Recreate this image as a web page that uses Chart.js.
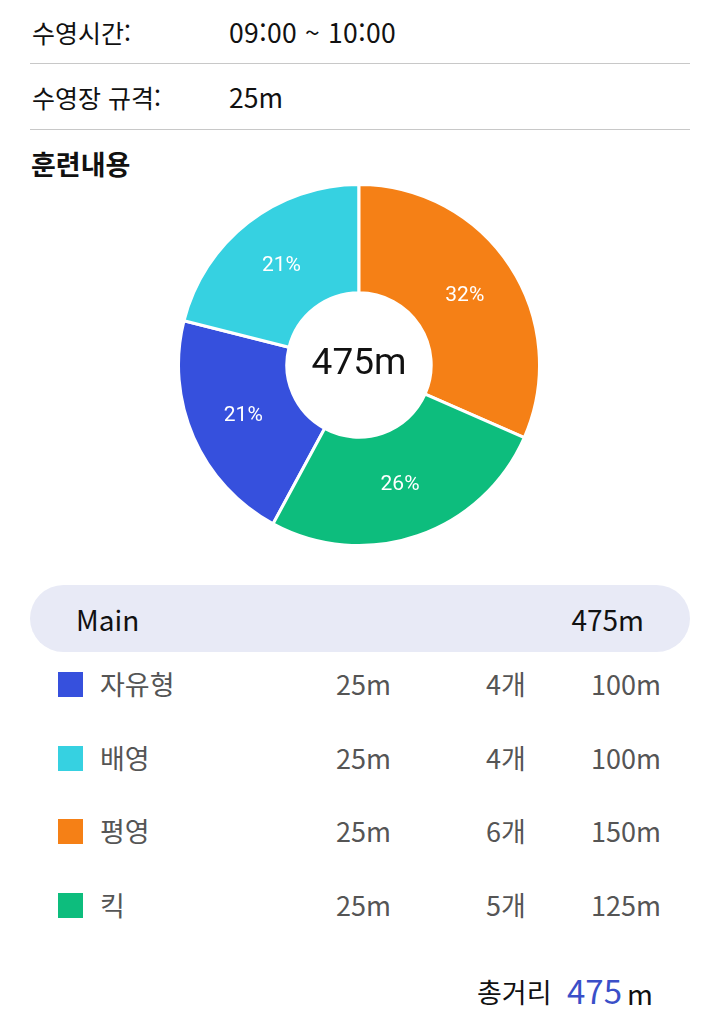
<!DOCTYPE html>
<html lang="ko">
<head>
<meta charset="utf-8">
<script src="https://cdn.jsdelivr.net/npm/chart.js@4"></script>
<style>
  html, body { margin: 0; padding: 0; background: #fff; }
  body { width: 720px; height: 1016px; position: relative; overflow: hidden;
         font-family: "Noto Sans CJK KR", "Noto Sans", sans-serif; color: #111; }
  .abs { position: absolute; white-space: nowrap; line-height: 1; }
  .info { font-size: 25px; }
  .val { font-size: 26.5px; }
  .rule { position: absolute; left: 30px; width: 660px; height: 1px; background: #c8c8c8; }
  .title { font-size: 27px; font-weight: 700; }
  #chartBox { position: absolute; left: 177px; top: 183px; width: 364px; height: 364px; }
  .mainBar { position: absolute; left: 30px; top: 585px; width: 660px; height: 67px;
             border-radius: 34px; background: #e8eaf6; }
  .mainTxt { font-size: 28px; }
  .row { font-size: 27px; color: #555; }
  .sq { position: absolute; width: 25px; height: 25px; }
</style>
</head>
<body>
<div class="abs info" style="left:32px; top:20px;">수영시간:</div>
<div class="abs val" style="left:229px; top:19px; letter-spacing:0.4px;">09:00 ~ 10:00</div>
<div class="rule" style="top:63px;"></div>
<div class="abs info" style="left:32px; top:85px;">수영장 규격:</div>
<div class="abs val" style="left:229px; top:84px;">25m</div>
<div class="rule" style="top:129px;"></div>
<div class="abs title" style="left:31px; top:150px;">훈련내용</div>

<div id="chartBox"><canvas id="poolChart"></canvas></div>

<div class="mainBar"></div>
<div class="abs mainTxt" style="left:76px; top:605px;">Main</div>
<div class="abs mainTxt" id="mainTotal" style="right:76px; top:605px;"></div>

<div id="rows"></div>

<div class="abs" style="left:477px; top:978px; font-size:27px;">총거리</div>
<div class="abs" id="totalNum" style="left:567px; top:974px; font-size:33px; color:#3a4fc8;"></div>
<div class="abs" style="left:627px; top:979px; font-size:28px;">m</div>

<script>
const strokes = ["자유형", "배영", "평영", "킥"];
const laneLength = [25, 25, 25, 25];
const laps = [4, 4, 6, 5];
const distances = [100, 100, 150, 125];
const strokeColors = ["#3650dd", "#36d1e1", "#f58016", "#0dbd7d"];

const total = distances.reduce((a, b) => a + b, 0);

// table rows
const rowsEl = document.getElementById("rows");
strokes.forEach(function (name, i) {
  const y = 672 + i * 73.7;
  rowsEl.insertAdjacentHTML("beforeend",
    '<div class="sq" style="left:58px; top:' + y + 'px; background:' + strokeColors[i] + ';"></div>' +
    '<div class="abs row" style="left:100px; top:' + (y - 2) + 'px;">' + name + '</div>' +
    '<div class="abs row" style="left:336px; top:' + (y - 2) + 'px;">' + laneLength[i] + 'm</div>' +
    '<div class="abs row" style="left:486px; top:' + (y - 2) + 'px;">' + laps[i] + '개</div>' +
    '<div class="abs row" style="right:59px; top:' + (y - 2) + 'px;">' + distances[i] + 'm</div>'
  );
});
document.getElementById("mainTotal").textContent = total + "m";
document.getElementById("totalNum").textContent = total;

// percent labels + centre text
const sliceLabels = {
  id: "sliceLabels",
  afterDatasetsDraw(chart) {
    const ctx = chart.ctx;
    const meta = chart.getDatasetMeta(0);
    ctx.save();
    ctx.fillStyle = "#ffffff";
    ctx.font = "21px Roboto";
    ctx.textAlign = "center";
    ctx.textBaseline = "middle";
    meta.data.forEach(function (arc, i) {
      const p = arc.tooltipPosition();
      ctx.fillText(Math.round(distances[i] / total * 100) + "%", p.x, p.y);
    });
    const c = meta.data[0];
    ctx.fillStyle = "#111";
    ctx.font = "37px Roboto";
    ctx.fillText(total + "m", c.x, c.y);
    ctx.restore();
  }
};

// rotate so 평영 starts at 12 o'clock
const startOffset = (distances[0] + distances[1]) / total * 360;

new Chart(document.getElementById("poolChart"), {
  type: "doughnut",
  data: {
    labels: strokes,
    datasets: [{
      data: distances,
      backgroundColor: strokeColors,
      borderColor: "#ffffff",
      borderWidth: 3
    }]
  },
  options: {
    responsive: true,
    maintainAspectRatio: false,
    animation: false,
    cutout: "40%",
    rotation: -startOffset,
    layout: { padding: 0 },
    plugins: {
      legend: { display: false },
      tooltip: { enabled: false }
    }
  },
  plugins: [sliceLabels]
});
</script>
</body>
</html>
